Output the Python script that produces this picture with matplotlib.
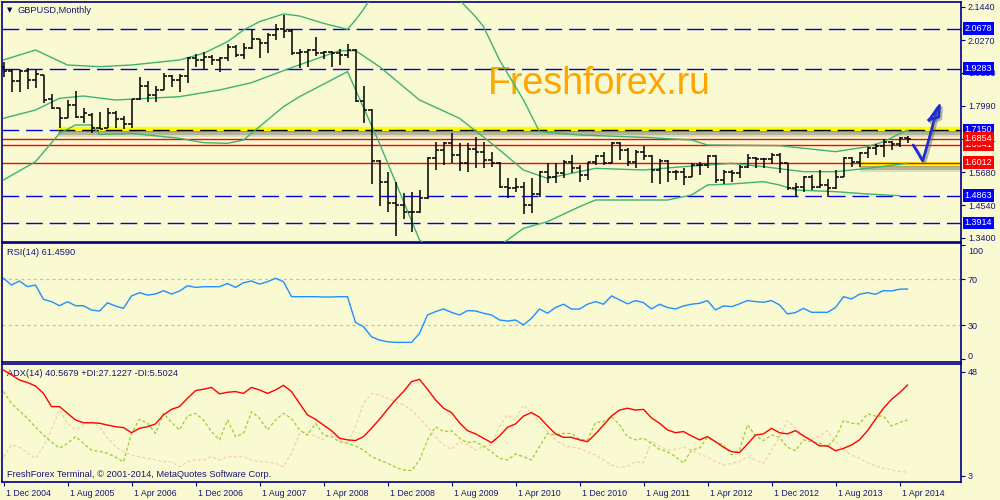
import matplotlib
matplotlib.use('Agg')
import matplotlib.pyplot as plt
import matplotlib.transforms as mtransforms
import matplotlib.patheffects as pe
import numpy as np

plt.rcParams['font.family'] = ['Liberation Sans', 'DejaVu Sans']

BG = '#FAFAD2'
NAVY = '#000080'
TXT = '#16167A'

# ---------------- data ----------------
date_labels = ['1 Dec 2004', '1 Aug 2005', '1 Apr 2006', '1 Dec 2006', '1 Aug 2007',
               '1 Apr 2008', '1 Dec 2008', '1 Aug 2009', '1 Apr 2010', '1 Dec 2010',
               '1 Aug 2011', '1 Apr 2012', '1 Dec 2012', '1 Aug 2013', '1 Apr 2014']
date_label_bars = [0, 8, 16, 24, 32, 40, 48, 56, 64, 72, 80, 88, 96, 104, 112]

opens = [1.9354, 1.9203, 1.8855, 1.9203, 1.8890, 1.9064, 1.8217, 1.7904, 1.7556, 1.8020,
         1.7614, 1.7672, 1.7208, 1.7208, 1.7730, 1.7521, 1.7347, 1.8217, 1.8681, 1.8368,
         1.8542, 1.9029, 1.8890, 1.9029, 1.9644, 1.9586, 1.9702, 1.9586, 1.9644, 2.0027,
         1.9760, 1.9992, 2.0305, 2.0166, 2.0456, 2.0653, 2.0607, 1.9818, 1.9876, 1.9934,
         1.9818, 1.9876, 1.9841, 1.9760, 1.9934, 1.8159, 1.7846, 1.6071, 1.5352, 1.4598,
         1.4540, 1.4285, 1.4285, 1.4772, 1.6164, 1.6454, 1.6686, 1.6280, 1.5990, 1.6477,
         1.6396, 1.6106, 1.5990, 1.5178, 1.5143, 1.5155, 1.4540, 1.4911, 1.5700, 1.5526,
         1.5642, 1.6048, 1.5816, 1.5584, 1.6025, 1.6245, 1.6013, 1.6709, 1.6454, 1.6025,
         1.6396, 1.6245, 1.5758, 1.6071, 1.5700, 1.5700, 1.5526, 1.5932, 1.5932, 1.6245,
         1.5410, 1.5700, 1.5665, 1.5874, 1.6164, 1.6129, 1.6129, 1.6280, 1.5990, 1.5120,
         1.5178, 1.5503, 1.5178, 1.5236, 1.5120, 1.5526, 1.6164, 1.6048, 1.6338, 1.6535,
         1.6605, 1.6744, 1.6663, 1.6883]
highs = [1.9528, 1.9238, 1.9273, 1.9319, 1.9238, 1.9064, 1.8391, 1.7927, 1.8194, 1.8519,
         1.7904, 1.7730, 1.7788, 1.7904, 1.7811, 1.7637, 1.8217, 1.9006, 1.8867, 1.8681,
         1.9145, 1.9064, 1.9099, 1.9702, 1.9795, 1.9876, 1.9760, 1.9702, 2.0131, 2.0108,
         2.0166, 2.0653, 2.0330, 2.0514, 2.0839, 2.1152, 2.0653, 1.9957, 1.9957, 2.0375,
         1.9911, 1.9890, 1.9957, 2.0143, 1.9960, 1.8681, 1.7869, 1.6090, 1.5700, 1.5352,
         1.4969, 1.4981, 1.5062, 1.6199, 1.6744, 1.6744, 1.7057, 1.6709, 1.6709, 1.6895,
         1.6744, 1.6396, 1.6048, 1.5468, 1.5468, 1.5352, 1.5468, 1.5720, 1.5990, 1.5990,
         1.6106, 1.6280, 1.5932, 1.6048, 1.6280, 1.6396, 1.6744, 1.6744, 1.6512, 1.6454,
         1.6605, 1.6280, 1.6129, 1.6106, 1.5758, 1.5816, 1.5990, 1.6048, 1.6280, 1.6280,
         1.5758, 1.5758, 1.5932, 1.6315, 1.6222, 1.6164, 1.6338, 1.6338, 1.6000, 1.5294,
         1.5549, 1.5584, 1.5758, 1.5433, 1.5758, 1.6222, 1.6222, 1.6396, 1.6570, 1.6663,
         1.6825, 1.6760, 1.6918, 1.6941]
lows = [1.9006, 1.8484, 1.8484, 1.8565, 1.8600, 1.8078, 1.7869, 1.7208, 1.7556, 1.7556,
        1.7382, 1.7034, 1.7173, 1.7208, 1.7231, 1.7173, 1.7231, 1.8194, 1.8136, 1.8136,
        1.8530, 1.8635, 1.8484, 1.8797, 1.9354, 1.9261, 1.9412, 1.9157, 1.9563, 1.9702,
        1.9609, 1.9980, 1.9644, 1.9841, 2.0282, 2.0340, 1.9760, 1.9319, 1.9354, 1.9725,
        1.9609, 1.9354, 1.9412, 1.9644, 1.8140, 1.7405, 1.5259, 1.4517, 1.4308, 1.3473,
        1.4053, 1.3612, 1.4250, 1.4737, 1.5758, 1.5932, 1.5990, 1.5735, 1.5677, 1.5816,
        1.5816, 1.5874, 1.5120, 1.4772, 1.5004, 1.4227, 1.4250, 1.4830, 1.5294, 1.5294,
        1.5468, 1.5642, 1.5352, 1.5410, 1.5932, 1.5932, 1.5990, 1.6106, 1.5897, 1.5816,
        1.6106, 1.5317, 1.5271, 1.5352, 1.5410, 1.5236, 1.5503, 1.5584, 1.5816, 1.5294,
        1.5271, 1.5352, 1.5468, 1.5816, 1.5816, 1.5816, 1.5967, 1.5642, 1.5062, 1.4807,
        1.5004, 1.5062, 1.5120, 1.4807, 1.5100, 1.5503, 1.5874, 1.5874, 1.6164, 1.6280,
        1.6222, 1.6454, 1.6570, 1.6709]
closes = [1.9203, 1.8855, 1.9203, 1.8890, 1.9099, 1.8194, 1.7904, 1.7556, 1.8020, 1.7614,
          1.7730, 1.7208, 1.7173, 1.7730, 1.7521, 1.7347, 1.8217, 1.8681, 1.8368, 1.8542,
          1.9029, 1.8890, 1.9029, 1.9644, 1.9586, 1.9702, 1.9586, 1.9644, 2.0027, 1.9760,
          1.9992, 2.0305, 2.0166, 2.0456, 2.0653, 2.0607, 1.9818, 1.9876, 1.9934, 1.9818,
          1.9876, 1.9841, 1.9760, 1.9934, 1.8159, 1.7846, 1.6071, 1.5352, 1.4598, 1.4540,
          1.4285, 1.4285, 1.4772, 1.6164, 1.6454, 1.6686, 1.6280, 1.5990, 1.6477, 1.6396,
          1.6106, 1.5990, 1.5178, 1.5143, 1.5155, 1.4540, 1.4911, 1.5700, 1.5526, 1.5642,
          1.6048, 1.5816, 1.5584, 1.6025, 1.6245, 1.6013, 1.6709, 1.6454, 1.6025, 1.6396,
          1.6245, 1.5758, 1.6071, 1.5700, 1.5700, 1.5526, 1.5932, 1.5932, 1.6245, 1.5410,
          1.5700, 1.5665, 1.5874, 1.6164, 1.6129, 1.6129, 1.6280, 1.5990, 1.5120, 1.5178,
          1.5503, 1.5178, 1.5236, 1.5120, 1.5526, 1.6164, 1.6048, 1.6338, 1.6535, 1.6605,
          1.6744, 1.6663, 1.6883, 1.6825]

bb_upper_bars = [0, 4, 8, 12, 16, 20, 22, 25, 28, 30, 32, 35, 37, 40, 43, 44, 45, 46, 50, 54,
                 57, 58, 59, 60, 62, 65, 67, 72, 80, 86, 88, 97, 104, 108, 110, 113]
bb_upper = [1.9586, 1.9934, 1.9412, 1.9354, 1.9412, 1.9528, 1.9586, 1.9818, 2.0224, 2.0630,
            2.0920, 2.1187, 2.1117, 2.0862, 2.0653, 2.0978, 2.1349, 2.1790, 2.3066, 2.2370,
            2.1674, 2.1384, 2.1094, 2.0746, 1.9586, 1.8194, 1.7092, 1.6976, 1.6895, 1.6802,
            1.6628, 1.6605, 1.6396, 1.6570, 1.6744, 1.7150]
bb_mid_bars = [0, 4, 7, 10, 14, 18, 22, 27, 31, 36, 42, 44, 47, 52, 57, 61, 65, 68, 71, 74,
               80, 85, 91, 95, 100, 104, 108, 113]
bb_mid = [1.7556, 1.7846, 1.8252, 1.8333, 1.8194, 1.8252, 1.8310, 1.8542, 1.8797, 1.9319,
          1.9911, 1.9911, 1.9354, 1.8194, 1.7556, 1.6686, 1.5758, 1.5468, 1.5642, 1.5816,
          1.5758, 1.5874, 1.5990, 1.5874, 1.5700, 1.5700, 1.5816, 1.5990]
bb_lower_bars = [0, 4, 7, 9, 11, 12, 16, 22, 25, 28, 30, 35, 37, 43, 47, 52, 57, 63, 65, 68,
                 72, 74, 83, 86, 88, 91, 95, 97, 99, 104, 108, 112]
bb_lower = [1.5410, 1.6048, 1.7034, 1.7324, 1.7324, 1.6992, 1.7034, 1.6860, 1.6709, 1.6686,
            1.6802, 1.7962, 1.8310, 1.9180, 1.6686, 1.3322, 1.2278, 1.3322, 1.3728, 1.3960,
            1.4482, 1.4714, 1.4714, 1.4888, 1.5236, 1.5271, 1.5352, 1.5236, 1.5062, 1.5004,
            1.4923, 1.4865]

rsi = [70.9, 65.0, 68.5, 63.6, 65.0, 52.5, 50.4, 46.9, 50.4, 46.9, 46.9, 43.1, 42.2, 49.5,
       46.6, 44.6, 55.4, 58.3, 56.2, 57.1, 60.0, 57.1, 59.7, 64.4, 62.9, 63.5, 63.5, 63.5,
       66.4, 62.9, 67.0, 68.5, 65.8, 67.9, 70.9, 67.9, 54.8, 54.8, 54.8, 54.8, 54.5, 54.5,
       54.8, 54.8, 32.3, 28.5, 19.7, 16.8, 15.4, 14.8, 14.8, 14.8, 22.7, 38.8, 41.7, 44.0,
       41.1, 38.8, 42.6, 42.3, 40.3, 38.8, 34.4, 33.5, 34.4, 30.1, 35.9, 44.0, 40.3, 45.3,
       48.2, 44.0, 44.0, 48.2, 50.5, 48.2, 55.5, 52.0, 48.5, 51.4, 49.6, 44.0, 48.2, 45.3,
       44.0, 46.7, 48.2, 49.0, 51.4, 43.2, 46.7, 46.1, 48.5, 51.4, 50.5, 49.9, 51.4, 47.6,
       39.7, 40.9, 44.6, 41.1, 41.1, 41.1, 45.3, 54.8, 52.8, 56.9, 58.3, 56.9, 60.1, 59.8,
       61.3, 61.5]

adx = [48.7, 46.6, 44.4, 43.3, 41.8, 38.6, 32.9, 32.9, 30.0, 27.1, 25.9, 25.9, 25.7, 24.9,
       24.2, 23.8, 21.6, 23.5, 24.2, 25.4, 29.3, 31.7, 32.9, 36.5, 39.8, 40.4, 41.2, 38.4,
       39.1, 39.4, 38.6, 41.2, 40.1, 38.6, 40.1, 42.1, 39.4, 34.3, 29.3, 27.4, 24.9, 22.5,
       19.2, 18.5, 18.2, 19.9, 23.5, 27.4, 31.7, 35.8, 39.4, 43.7, 44.7, 40.4, 35.8, 32.2,
       30.3, 25.9, 22.5, 21.1, 19.2, 17.3, 20.2, 23.9, 25.4, 28.8, 30.3, 28.3, 24.5, 21.1,
       19.6, 19.6, 18.5, 17.7, 21.1, 24.9, 28.8, 31.4, 32.2, 31.4, 31.7, 28.0, 25.7, 22.8,
       21.6, 22.1, 20.2, 18.5, 19.9, 17.7, 15.3, 13.4, 13.0, 16.7, 20.6, 21.1, 23.5, 21.6,
       21.1, 22.5, 20.2, 18.2, 15.9, 15.9, 13.8, 14.8, 16.3, 18.5, 22.5, 27.4, 32.2, 36.0,
       38.9, 42.2]
plus_di = [39.4, 34.3, 31.0, 27.8, 24.0, 20.6, 17.5, 14.9, 17.0, 19.9, 17.0, 14.1, 13.5, 12.7,
           11.0, 9.0, 21.3, 27.4, 25.7, 21.3, 30.0, 26.0, 22.8, 28.8, 30.0, 27.1, 22.0, 18.5,
           27.1, 19.9, 21.3, 30.7, 27.8, 22.8, 27.1, 30.0, 27.8, 22.8, 20.6, 25.7, 20.6, 19.9,
           17.7, 17.0, 15.9, 14.1, 11.2, 9.8, 8.4, 6.6, 5.5, 5.2, 9.8, 18.5, 24.2, 22.1,
           22.5, 19.2, 17.3, 17.7, 15.6, 13.4, 10.5, 9.8, 12.4, 11.2, 9.8, 15.6, 21.3, 20.6,
           21.3, 21.3, 18.7, 18.5, 26.0, 26.4, 28.6, 25.0, 19.9, 18.5, 19.2, 17.0, 14.4, 13.4,
           11.2, 8.4, 14.1, 14.9, 19.6, 17.7, 16.3, 12.0, 14.1, 25.0, 20.2, 18.2, 20.6, 19.6,
           15.3, 13.8, 18.5, 17.7, 17.0, 15.6, 19.2, 26.8, 25.7, 25.4, 29.7, 28.8, 28.8, 24.5,
           26.0, 27.1]
minus_di = [11.2, 16.3, 15.3, 12.7, 10.5, 15.6, 22.8, 31.4, 25.7, 22.8, 24.9, 26.4, 24.2, 19.2,
            15.6, 13.4, 12.0, 11.2, 10.5, 9.8, 9.0, 9.0, 6.9, 9.0, 9.8, 9.8, 11.2, 9.8,
            11.2, 11.2, 11.2, 9.8, 9.0, 9.0, 8.3, 6.9, 12.7, 21.3, 22.1, 19.9, 18.5, 21.3,
            18.5, 17.0, 24.2, 34.3, 38.6, 37.9, 36.5, 35.0, 33.6, 31.4, 27.8, 24.2, 19.9, 16.3,
            14.4, 17.7, 16.3, 14.1, 15.6, 16.3, 24.2, 29.3, 27.1, 33.6, 30.0, 26.4, 22.1, 18.5,
            16.3, 15.3, 14.8, 13.4, 12.0, 9.8, 7.6, 6.6, 7.2, 9.0, 8.7, 18.0, 15.9, 14.1,
            14.4, 15.3, 14.1, 12.4, 11.0, 9.1, 7.6, 8.3, 9.1, 11.2, 9.8, 8.3, 14.1, 19.6,
            26.8, 23.5, 20.6, 18.7, 20.2, 22.5, 17.7, 14.1, 12.0, 10.5, 8.7, 7.2, 6.2, 5.5,
            4.8, 4.5]

price_ticks = [2.1440, 2.0270, 1.9150, 1.7990, 1.6841, 1.5680, 1.4540, 1.3400]
blue_levels = [2.0678, 1.9283, 1.7150, 1.4863, 1.3914]
red_levels = [1.6641, 1.6854, 1.6012]
rsi_levels = [70, 30]

title_text = 'GBPUSD,Monthly'
rsi_text = 'RSI(14) 61.4590'
adx_text = 'ADX(14) 40.5679 +DI:27.1227 -DI:5.5024'
copyright_text = 'FreshForex Terminal, \u00a9 2001-2014, MetaQuotes Software Corp.'
watermark = 'Freshforex.ru'

# hand-drawn arrow annotation (bar index, price)
arrow_x = [113.7, 114.1, 114.9, 115.3, 115.8, 116.3, 116.7]
arrow_y = [1.6628, 1.6454, 1.6071, 1.6454, 1.6941, 1.7463, 1.7900]
head_x = [115.7, 117.0, 116.9, 115.7]
head_y = [1.7498, 1.8003, 1.7602, 1.7498]

# ---------------- figure ----------------
fig = plt.figure(figsize=(10, 5), dpi=100, facecolor=BG)
W, H = 1000.0, 500.0
x_left_px, x_right_px = 2.0, 961.0

def axes_px(top, bottom):
    return [x_left_px / W, 1 - bottom / H, (x_right_px - x_left_px) / W, (bottom - top) / H]

ax = fig.add_axes(axes_px(2.0, 241.7), facecolor=BG)
ax_rsi = fig.add_axes(axes_px(243.3, 361.7), facecolor=BG)
ax_adx = fig.add_axes(axes_px(364.3, 482.3), facecolor=BG)

n = len(closes)
idx = np.arange(n)
xlim = ((x_left_px - 3.5) / 8.0, (x_right_px - 3.5) / 8.0)

for a in (ax, ax_rsi, ax_adx):
    a.set_xlim(*xlim)
    for s in a.spines.values():
        s.set_color(NAVY)
        s.set_linewidth(1.2)
    a.tick_params(axis='x', bottom=False, labelbottom=False)
    a.yaxis.tick_right()
    a.tick_params(axis='y', direction='out', length=3, width=0.8, color=NAVY,
                  labelcolor=TXT, labelsize=6.5, pad=2)

# ---- main price panel ----
ax.set_ylim(1.3263, 2.1604)
ax.set_yticks(price_ticks)
ax.set_yticklabels(['%.4f' % v for v in price_ticks])

dash_blue = (0, (12, 5))
for lv in blue_levels:
    ax.axhline(lv, color='#0000E0', lw=1.0, linestyle=dash_blue, zorder=1)

# yellow highlighted bands with soft shadow
def yellow_band(level, x0):
    for k, (off, alpha, lw) in enumerate([(-0.010, 0.18, 7), (-0.007, 0.28, 5), (-0.004, 0.35, 3)]):
        ax.plot([x0, xlim[1]], [level + off, level + off], color='#505050', lw=lw,
                alpha=alpha, solid_capstyle='butt', zorder=1.5)
    ax.plot([x0, xlim[1]], [level, level], color='#FFFF00', lw=3.2,
            solid_capstyle='butt', zorder=2)

yellow_band(1.7180, 6.8)
ax.plot([6.8, xlim[1]], [1.7150, 1.7150], color='black', lw=1.0, linestyle=dash_blue, zorder=2.5)
yellow_band(1.5960, 107.0)

for lv in red_levels:
    ax.axhline(lv, color='#FF0000', lw=1.0, zorder=2)

green = '#3CB371'
ax.plot(bb_upper_bars, bb_upper, color=green, lw=1.0, zorder=3)
ax.plot(bb_mid_bars, bb_mid, color=green, lw=1.0, zorder=3)
ax.plot(bb_lower_bars, bb_lower, color=green, lw=1.0, zorder=3)

# OHLC bars
tick_w = 0.42
ax.vlines(idx, lows, highs, color='black', lw=1.1, zorder=4)
ax.hlines(opens, idx - tick_w, idx, color='black', lw=1.1, zorder=4)
ax.hlines(closes, idx, idx + tick_w, color='black', lw=1.1, zorder=4)

ax.text((488 - x_left_px) / (x_right_px - x_left_px), (241.7 - 94.3) / 239.7, watermark,
        transform=ax.transAxes, fontsize=27, color='#FFA500', va='baseline', ha='left',
        family=['Liberation Sans'], zorder=0.5)

ax.text(0.0052, 0.966, '\u25BC', transform=ax.transAxes, fontsize=5, color=NAVY,
        va='center', ha='left', family=['DejaVu Sans'])
ax.text(0.0165, 0.966, title_text, transform=ax.transAxes, fontsize=6.7, color=TXT,
        va='center', ha='left')

# arrow
arrow_fx = [pe.SimpleLineShadow(offset=(1.5, -1.5), shadow_color='#606060', alpha=0.45), pe.Normal()]
ax.plot(arrow_x, arrow_y, color='#1E2DD2', lw=2.0, solid_capstyle='round',
        solid_joinstyle='round', path_effects=arrow_fx, zorder=6, clip_on=False)
ax.plot(head_x, head_y, color='#1E2DD2', lw=2.0, solid_joinstyle='round',
        path_effects=arrow_fx, zorder=6, clip_on=False)

# boxed price labels
bt = mtransforms.blended_transform_factory(ax.transAxes, ax.transData)
lab_x = 1.0 + 3.5 / 959.0
boxes = [(lv, '#0000FF') for lv in blue_levels] + [(lv, '#FF0000') for lv in red_levels]
for lv, col in boxes:
    ax.text(lab_x, lv, '%.4f' % lv, transform=bt, fontsize=6.5, color='white',
            ha='left', va='center', clip_on=False, zorder=10,
            bbox=dict(boxstyle='square,pad=0.22', fc=col, ec='none'))

# ---- RSI panel ----
ax_rsi.set_ylim(-2.1, 101.5)
for lv in rsi_levels:
    ax_rsi.axhline(lv, color='#C0C0C0', lw=0.9, linestyle=(0, (2.5, 2.5)), zorder=1)
ax_rsi.plot(idx, rsi, color='#1E90FF', lw=1.0, zorder=3)
ax_rsi.set_yticks([100, 70, 30, 0])
ax_rsi.set_yticklabels(['100', '70', '30', '0'])
lbls = ax_rsi.get_yticklabels()
lbls[0].set_transform(lbls[0].get_transform() + mtransforms.ScaledTranslation(0, -5 / 100, fig.dpi_scale_trans))
lbls[3].set_transform(lbls[3].get_transform() + mtransforms.ScaledTranslation(0, 3.5 / 100, fig.dpi_scale_trans))
ax_rsi.text(0.0052, 0.9265, rsi_text, transform=ax_rsi.transAxes, fontsize=6.7,
            color=TXT, va='center', ha='left')

# ---- ADX panel ----
ax_adx.set_ylim(0.14, 51.2)
ax_adx.plot(idx, minus_di, color='#F6CDB0', lw=0.9, linestyle=(0, (2.5, 1.8)), zorder=2)
ax_adx.plot(idx, plus_di, color='#9ACD32', lw=0.9, linestyle=(0, (2.5, 1.8)), zorder=3)
ax_adx.plot(idx, adx, color='#FF0000', lw=1.0, zorder=4)
ax_adx.set_yticks([48, 3])
ax_adx.set_yticklabels(['48', '3'])
ax_adx.text(0.0052, 0.926, adx_text, transform=ax_adx.transAxes, fontsize=6.7,
            color=TXT, va='center', ha='left')
ax_adx.text(0.0052, 0.062, copyright_text, transform=ax_adx.transAxes, fontsize=6.7,
            color=TXT, va='center', ha='left')

ax_adx.tick_params(axis='x', bottom=True, labelbottom=True, direction='out', length=3,
                   width=0.8, color=NAVY, labelcolor=TXT, labelsize=6.3, pad=2)
ax_adx.set_xticks(date_label_bars)
ax_adx.set_xticklabels(date_labels)
off = mtransforms.ScaledTranslation(3 / 100, 0, fig.dpi_scale_trans)
for lb in ax_adx.get_xticklabels():
    lb.set_ha('left')
    lb.set_transform(lb.get_transform() + off)

fig.savefig('out.png', dpi=100, facecolor=BG)
